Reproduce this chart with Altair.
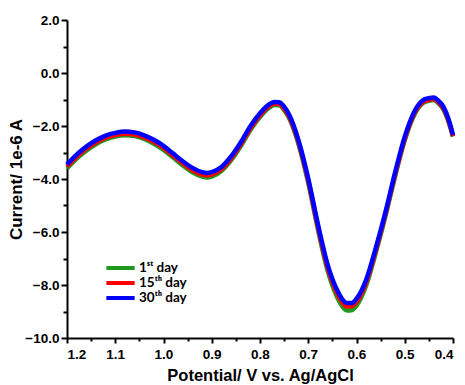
import altair as alt
import pandas as pd

potential = [1.20, 1.18, 1.16, 1.14, 1.12, 1.10, 1.08, 1.06, 1.04, 1.02, 1.00,
             0.98, 0.96, 0.94, 0.92, 0.91, 0.90, 0.88, 0.86, 0.84, 0.82, 0.80,
             0.78, 0.77, 0.76, 0.75, 0.74, 0.72, 0.70, 0.68, 0.66, 0.64, 0.63,
             0.62, 0.61, 0.60, 0.58, 0.56, 0.54, 0.52, 0.50, 0.48, 0.46,
             0.45, 0.44, 0.43, 0.42, 0.41, 0.40]

day30 = [-3.45, -3.08, -2.78, -2.54, -2.36, -2.26, -2.21, -2.24, -2.35, -2.52, -2.75,
         -3.04, -3.33, -3.58, -3.74, -3.77, -3.74, -3.55, -3.15, -2.62, -2.01, -1.52,
         -1.17, -1.09, -1.10, -1.27, -1.56, -2.55, -3.98, -5.70, -7.22, -8.20, -8.52,
         -8.68, -8.68, -8.52, -7.80, -6.60, -5.25, -3.75, -2.40, -1.45, -1.00,
         -0.95, -0.92, -1.05, -1.27, -1.70, -2.34]

day15 = [-3.53, -3.16, -2.86, -2.62, -2.44, -2.34, -2.29, -2.32, -2.43, -2.60, -2.83,
         -3.12, -3.41, -3.67, -3.83, -3.86, -3.83, -3.63, -3.23, -2.70, -2.09, -1.60,
         -1.24, -1.16, -1.17, -1.34, -1.63, -2.63, -4.07, -5.80, -7.33, -8.32, -8.64,
         -8.81, -8.80, -8.64, -7.90, -6.69, -5.33, -3.83, -2.48, -1.52, -1.07,
         -1.01, -0.98, -1.11, -1.33, -1.76, -2.38]

day1 = [-3.60, -3.23, -2.93, -2.69, -2.51, -2.40, -2.35, -2.38, -2.49, -2.67, -2.90,
        -3.19, -3.49, -3.75, -3.91, -3.94, -3.91, -3.70, -3.30, -2.77, -2.15, -1.66,
        -1.30, -1.21, -1.22, -1.40, -1.69, -2.70, -4.15, -5.90, -7.45, -8.46, -8.79,
        -8.96, -8.95, -8.78, -8.02, -6.78, -5.40, -3.90, -2.54, -1.57, -1.11,
        -1.05, -1.02, -1.15, -1.37, -1.80, -2.40]

series_names = ["1ˢᵗ day", "15ᵗʰ day", "30ᵗʰ day"]
series_colors = ["#1f9a1f", "#ff0000", "#0000ff"]

rows = []
for name, vals in zip(series_names, [day1, day15, day30]):
    for i, (p, c) in enumerate(zip(potential, vals)):
        rows.append({"Potential": p, "Current": c, "Series": name, "idx": i})
df = pd.DataFrame(rows)

x_ticks = [round(0.40 + 0.05 * i, 2) for i in range(17)]
y_ticks = list(range(-10, 3))

font = "Liberation Sans"
x_major = "abs(datum.value*10 - round(datum.value*10)) < 0.01"

chart = alt.Chart(df).mark_line(strokeWidth=4.5, interpolate="monotone").encode(
    x=alt.X("Potential:Q",
            scale=alt.Scale(domain=[0.4, 1.2], reverse=True, nice=False, zero=False),
            axis=alt.Axis(
                title="Potential/ V vs. Ag/AgCl",
                values=x_ticks,
                labelExpr=x_major + " ? format(datum.value, '.1f') : ''",
                tickSize={"condition": {"test": x_major, "value": 5}, "value": 3},
                labelOverlap=False,
                grid=False,
                labelPadding=4,
                titlePadding=7,
                titleFontSize=16.5,
            )),
    y=alt.Y("Current:Q",
            scale=alt.Scale(domain=[-10, 2], nice=False, zero=False),
            axis=alt.Axis(
                title="Current/ 1e-6 A",
                values=y_ticks,
                labelExpr="datum.value % 2 == 0 ? format(datum.value, '.1f') : ''",
                tickSize={"condition": {"test": "datum.value % 2 == 0", "value": 6}, "value": 4},
                labelOverlap=False,
                grid=False,
                labelPadding=2,
                titleX=-42,
                titleY=159,
                titleFontSize=17,
            )),
    color=alt.Color("Series:N",
                    scale=alt.Scale(domain=series_names, range=series_colors),
                    sort=series_names,
                    legend=alt.Legend(
                        title=None,
                        orient="none",
                        legendX=37,
                        legendY=241,
                        symbolType="stroke",
                        symbolSize=800,
                        symbolStrokeWidth=4,
                        clipHeight=14,
                        labelFont="Lato",
                        labelFontSize=13.5,
                        labelFontWeight="bold",
                        labelColor="black",
                        labelOffset=2,
                        rowPadding=1,
                    )),
    order=alt.Order("idx:Q"),
    detail="Series:N",
).properties(
    width=386,
    height=318,
    autosize=alt.AutoSizeParams(type="none"),
    padding={"left": 67, "top": 20, "right": 12, "bottom": 47},
).configure_view(
    stroke=None
).configure_axis(
    domainColor="black",
    domainWidth=2,
    tickColor="black",
    tickWidth=2,
    labelFont=font,
    labelFontSize=13.5,
    labelFontWeight="bold",
    labelColor="black",
    titleFont=font,
    titleFontWeight="bold",
    titleColor="black",
)

chart.save("out.html", embed_options={"renderer": "svg", "actions": False})
